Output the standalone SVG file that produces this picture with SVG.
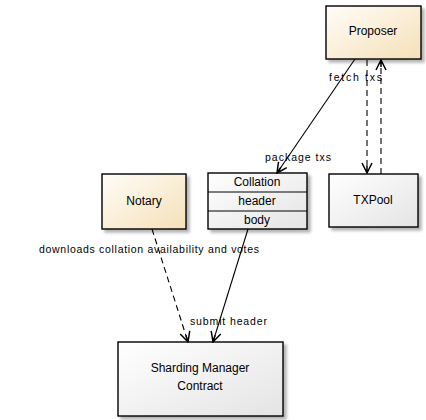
<svg xmlns="http://www.w3.org/2000/svg" width="426" height="420" viewBox="0 0 426 420">
<defs>
<linearGradient id="cream" x1="0" y1="0" x2="1" y2="1">
<stop offset="0" stop-color="#fffdf8"/>
<stop offset="1" stop-color="#f5e0b8"/>
</linearGradient>
<linearGradient id="gray" x1="0" y1="0" x2="1" y2="1">
<stop offset="0" stop-color="#ffffff"/>
<stop offset="1" stop-color="#e4e4e4"/>
</linearGradient>
<filter id="sh" x="-10%" y="-10%" width="130%" height="130%">
<feGaussianBlur in="SourceAlpha" stdDeviation="1.5"/>
<feOffset dx="3" dy="3" result="b"/>
<feComponentTransfer><feFuncA type="linear" slope="0.3"/></feComponentTransfer>
<feMerge><feMergeNode/><feMergeNode in="SourceGraphic"/></feMerge>
</filter>
<marker id="arr" viewBox="0 0 12 12" refX="11" refY="6" markerWidth="12" markerHeight="12" markerUnits="userSpaceOnUse" orient="auto">
<path d="M1,1 L11,6 L1,11 M11,6 L4,6" fill="none" stroke="#000" stroke-width="1.5"/>
</marker>
<style>
.box{stroke:#000;stroke-width:1.4;filter:url(#sh)}
.t{font-family:"Liberation Sans",Arial,sans-serif;font-size:12px;fill:#000;text-anchor:middle}
.l{font-family:"Liberation Sans",Arial,sans-serif;font-size:10.5px;fill:#000}
.e{fill:none;stroke:#000;stroke-width:1.1}
.d{stroke-dasharray:6,4}
</style>
</defs>
<g id="Proposer">
<rect class="box" x="326" y="6" width="95" height="53" fill="url(#cream)"/>
<text class="t" x="373" y="35">Proposer</text>
</g>
<g id="TXPool">
<rect class="box" x="329" y="174" width="89" height="53" fill="url(#gray)"/>
<text class="t" x="373" y="204">TXPool</text>
</g>
<g id="Collation">
<rect class="box" x="208" y="173" width="99" height="56" fill="url(#gray)"/>
<line x1="208" y1="192" x2="307" y2="192" stroke="#000" stroke-width="1"/>
<line x1="208" y1="211" x2="307" y2="211" stroke="#000" stroke-width="1"/>
<text class="t" x="257" y="186">Collation</text>
<text class="t" x="257" y="205">header</text>
<text class="t" x="257" y="224">body</text>
</g>
<g id="Notary">
<rect class="box" x="102" y="174" width="84" height="55" fill="url(#cream)"/>
<text class="t" x="144" y="205">Notary</text>
</g>
<g id="SMC">
<rect class="box" x="118" y="342" width="165" height="74" fill="url(#gray)"/>
<text class="t" x="200" y="372">Sharding Manager</text>
<text class="t" x="200" y="390">Contract</text>
</g>
<g id="connectors">
<line class="e" x1="355" y1="59" x2="277" y2="173" marker-end="url(#arr)"/>
<text class="l" x="265" y="161" textLength="66">package txs</text>
<line class="e d" x1="367" y1="60" x2="367" y2="173" marker-end="url(#arr)"/>
<line class="e d" x1="381" y1="174" x2="381" y2="60" marker-end="url(#arr)"/>
<text class="l" x="329" y="81" textLength="53">fetch txs</text>
<line class="e d" x1="152" y1="229" x2="188" y2="342" marker-end="url(#arr)"/>
<text class="l" x="39" y="253" textLength="220">downloads collation availability and votes</text>
<line class="e" x1="248" y1="229" x2="213" y2="342" marker-end="url(#arr)"/>
<text class="l" x="190" y="325" textLength="77">submit header</text>
</g>
</svg>
